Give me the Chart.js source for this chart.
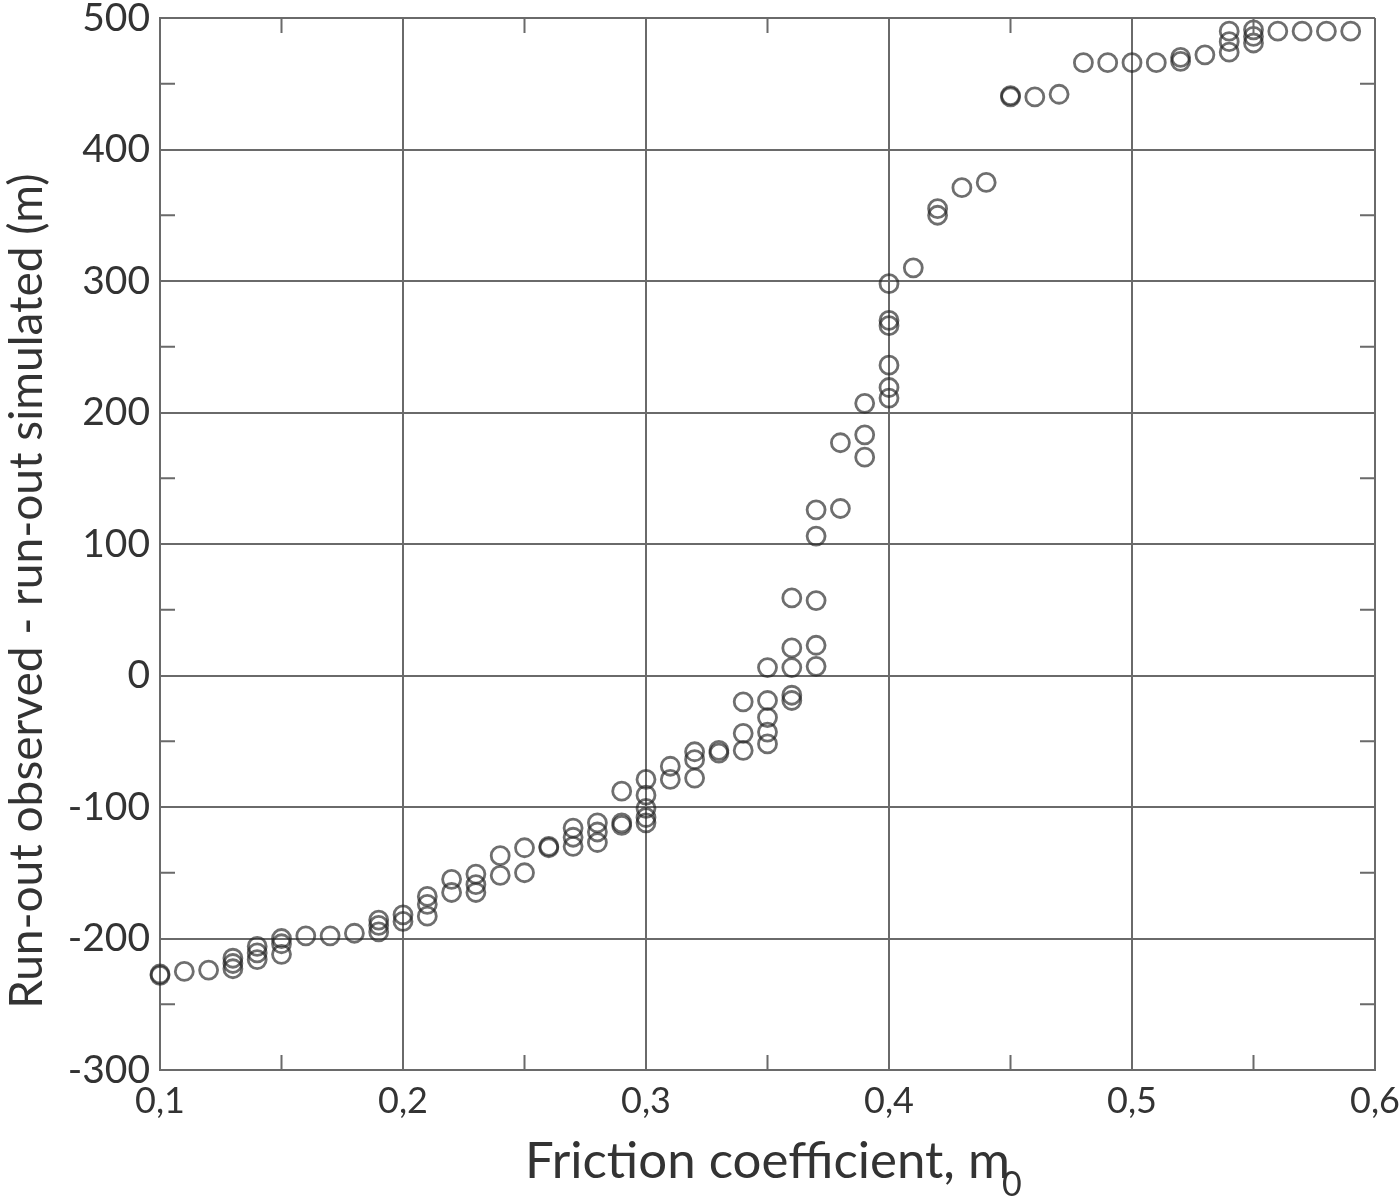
<!DOCTYPE html>
<html>
<head>
<meta charset="utf-8">
<script src="https://cdn.jsdelivr.net/npm/chart.js@4"></script>
<style>
  html, body { margin: 0; padding: 0; background: #fff; }
  #wrap { width: 1400px; height: 1202px; }
</style>
</head>
<body>
<div id="wrap"><canvas id="runout" width="1400" height="1202"></canvas></div>
<script>
// friction coefficient (x) and run-out difference in m (y)
const friction = [
  0.10, 0.10, 0.11, 0.12, 0.13, 0.13, 0.13, 0.14, 0.14, 0.14,
  0.15, 0.15, 0.15, 0.16, 0.17, 0.18, 0.19, 0.19, 0.19, 0.20,
  0.20, 0.21, 0.21, 0.21, 0.22, 0.22, 0.23, 0.23, 0.23, 0.24,
  0.24, 0.25, 0.25, 0.26, 0.26, 0.27, 0.27, 0.27, 0.28, 0.28,
  0.28, 0.29, 0.29, 0.29, 0.30, 0.30, 0.30, 0.30, 0.30, 0.31,
  0.31, 0.32, 0.32, 0.32, 0.33, 0.33, 0.34, 0.34, 0.34, 0.35,
  0.35, 0.35, 0.35, 0.35, 0.36, 0.36, 0.36, 0.36, 0.36, 0.37,
  0.37, 0.37, 0.37, 0.37, 0.38, 0.38, 0.39, 0.39, 0.39, 0.40,
  0.40, 0.40, 0.40, 0.40, 0.40, 0.41, 0.42, 0.42, 0.43, 0.44,
  0.45, 0.45, 0.46, 0.47, 0.48, 0.49, 0.50, 0.51, 0.52, 0.52,
  0.53, 0.54, 0.54, 0.54, 0.55, 0.55, 0.55, 0.56, 0.57, 0.58,
  0.59
];
const runoutDiff = [
  -227, -228, -225, -224, -215, -219, -223, -206, -211, -216,
  -200, -204, -212, -198, -198, -196, -186, -190, -195, -182,
  -187, -168, -174, -183, -155, -165, -151, -159, -165, -137,
  -152, -131, -150, -130, -131, -116, -123, -130, -112, -119,
  -127, -88, -112, -114, -79, -91, -101, -108, -112, -69,
  -79, -58, -64, -78, -57, -59, -20, -44, -57, 6,
  -19, -32, -43, -52, 59, 21, 6, -15, -19, 126,
  106, 57, 23, 7, 177, 127, 207, 183, 166, 298,
  270, 266, 236, 219, 211, 310, 350, 355, 371, 375,
  440, 441, 440, 442, 466, 466, 466, 466, 467, 470,
  472, 490, 482, 474, 491, 486, 481, 490, 490, 490,
  490
];
const xTickLabels = ["0,1", "0,2", "0,3", "0,4", "0,5", "0,6"];
const yTickLabels = ["-300", "-200", "-100", "0", "100", "200", "300", "400", "500"];

const points = friction.map((x, i) => ({ x: x, y: runoutDiff[i] }));

const FONT = "Lato, 'Open Sans', sans-serif";
const GRID = "#6a6a6a";
const TEXT = "#333";
const X_TITLE_SIZE = 51;

function isMajorX(v) { return Math.round(v * 100) % 10 === 0; }
function isMajorY(v) { return Math.round(v) % 100 === 0; }

// minor ticks on all four sides, plus the subscript of the x title
const frame = {
  id: "frame",
  afterDraw(chart) {
    const { ctx, chartArea: a, scales } = chart;
    const len = 15;
    ctx.save();
    ctx.strokeStyle = GRID;
    ctx.lineWidth = 2;
    ctx.beginPath();
    scales.x.ticks.forEach(t => {
      if (isMajorX(t.value)) return;
      const px = scales.x.getPixelForValue(t.value);
      ctx.moveTo(px, a.bottom); ctx.lineTo(px, a.bottom - len);
      ctx.moveTo(px, a.top); ctx.lineTo(px, a.top + len);
    });
    scales.y.ticks.forEach(t => {
      if (isMajorY(t.value)) return;
      const py = scales.y.getPixelForValue(t.value);
      ctx.moveTo(a.left, py); ctx.lineTo(a.left + len, py);
      ctx.moveTo(a.right, py); ctx.lineTo(a.right - len, py);
    });
    ctx.stroke();

    // subscript "0" right after the "m" of the x-axis title
    ctx.font = X_TITLE_SIZE + "px " + FONT;
    const w = ctx.measureText(chart.options.scales.x.title.text).width;
    const cx = (a.left + a.right) / 2;
    ctx.font = "34px " + FONT;
    ctx.fillStyle = TEXT;
    ctx.textAlign = "left";
    ctx.textBaseline = "alphabetic";
    ctx.fillText("0", cx + w / 2 - 8, 1196);
    ctx.restore();
  }
};

new Chart(document.getElementById("runout"), {
  type: "scatter",
  data: {
    datasets: [{
      label: "Run-out difference",
      data: points,
      clip: false,
      pointStyle: "circle",
      pointRadius: 9,
      pointHoverRadius: 9,
      borderWidth: 2.8,
      borderColor: "rgba(35,35,35,0.66)",
      backgroundColor: "rgba(0,0,0,0)"
    }]
  },
  options: {
    responsive: false,
    animation: false,
    layout: { padding: { left: 0, right: 25, top: 18, bottom: 0 } },
    plugins: { legend: { display: false }, tooltip: { enabled: false } },
    scales: {
      x: {
        type: "linear",
        min: 0.1,
        max: 0.6,
        afterBuildTicks(scale) {
          const t = [];
          for (let i = 10; i <= 60; i += 5) t.push({ value: i / 100 });
          scale.ticks = t;
        },
        afterFit(scale) {
          scale.height = 132;
          scale.paddingLeft = 0;
          scale.paddingRight = 0;
        },
        ticks: {
          autoSkip: false,
          maxRotation: 0,
          padding: 10,
          color: TEXT,
          font: { family: FONT, size: 36 },
          callback(v) {
            if (!isMajorX(v)) return "";
            return xTickLabels[Math.round(v * 10) - 1];
          }
        },
        grid: {
          drawTicks: false,
          lineWidth: 2,
          color: c => (isMajorX(c.tick.value) ? GRID : "rgba(0,0,0,0)")
        },
        border: { color: GRID, width: 2 },
        title: {
          display: true,
          text: "Friction coefficient, m",
          color: TEXT,
          font: { family: FONT, size: X_TITLE_SIZE },
          padding: { top: 0, bottom: 10 }
        }
      },
      y: {
        type: "linear",
        min: -300,
        max: 500,
        afterBuildTicks(scale) {
          const t = [];
          for (let v = -300; v <= 500; v += 50) t.push({ value: v });
          scale.ticks = t;
        },
        afterFit(scale) {
          scale.width = 160;
          scale.paddingTop = 0;
          scale.paddingBottom = 0;
        },
        ticks: {
          autoSkip: false,
          padding: 10,
          color: TEXT,
          font: { family: FONT, size: 39 },
          callback(v) {
            if (!isMajorY(v)) return "";
            return yTickLabels[Math.round((v + 300) / 100)];
          }
        },
        grid: {
          drawTicks: false,
          lineWidth: 2,
          color: c => (isMajorY(c.tick.value) ? GRID : "rgba(0,0,0,0)")
        },
        border: { color: GRID, width: 2 },
        title: {
          display: true,
          text: "Run-out observed - run-out simulated (m)        ",
          color: TEXT,
          font: { family: FONT, size: 46 },
          padding: { top: 0, bottom: 2 }
        }
      }
    }
  },
  plugins: [frame]
});
</script>
</body>
</html>
